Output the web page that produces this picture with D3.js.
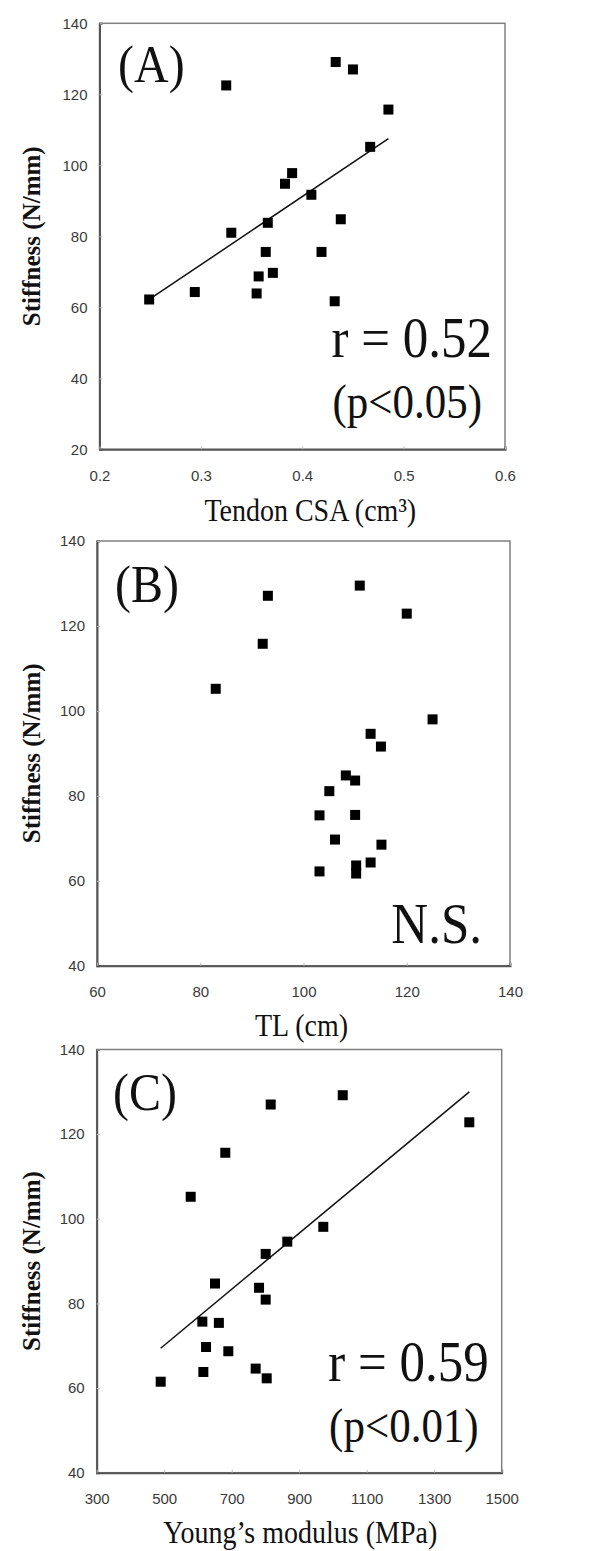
<!DOCTYPE html>
<html>
<head>
<meta charset="utf-8">
<script src="https://cdn.jsdelivr.net/npm/d3@7"></script>
<style>
  html, body { margin: 0; padding: 0; background: #fff; }
  svg { display: block; }
</style>
</head>
<body>
<div id="chart"></div>
<script>
// ---------------- DATA ----------------
// Panel A: Tendon CSA vs Stiffness
const csaA   = [0.325, 0.433, 0.450, 0.485, 0.467, 0.390, 0.383, 0.409, 0.438, 0.366, 0.330, 0.364, 0.419, 0.249, 0.294, 0.355, 0.357, 0.371, 0.432];
const stiffA = [122.5, 129.1, 127.0, 115.7, 105.2, 97.8, 94.8, 91.7, 84.8, 83.8, 81.0, 75.6, 75.6, 62.2, 64.3, 63.9, 68.7, 69.7, 61.7];
const trendA = [[0.249, 62.2], [0.485, 107.5]];
const xTicksA = [0.2, 0.3, 0.4, 0.5, 0.6];
const yTicksA = [20, 40, 60, 80, 100, 120, 140];

// Panel B: TL vs Stiffness
const tlB    = [93.1, 110.9, 120.0, 92.1, 83.0, 125.0, 113.0, 115.0, 108.2, 110.0, 105.0, 103.1, 110.0, 106.1, 115.1, 113.0, 103.1, 110.2, 110.2];
const stiffB = [127.1, 129.5, 122.9, 115.8, 105.2, 98.0, 94.6, 91.6, 84.8, 83.6, 81.1, 75.4, 75.5, 69.7, 68.5, 64.3, 62.2, 63.6, 61.7];
const xTicksB = [60, 80, 100, 120, 140];
const yTicksB = [40, 60, 80, 100, 120, 140];

// Panel C: Young's modulus vs Stiffness
const ymC    = [1029, 815.6, 1404, 681, 578.5, 971.4, 864.7, 800.7, 650.5, 781, 800.7, 613, 662, 624, 690, 616, 771, 803.7, 489.6];
const stiffC = [129.2, 127.0, 122.8, 115.6, 105.2, 98.1, 94.6, 91.7, 84.7, 83.7, 80.9, 75.7, 75.4, 69.7, 68.7, 63.8, 64.6, 62.3, 61.5];
const trendC = [[489.6, 69.4], [1404, 130.0]];
const xTicksC = [300, 500, 700, 900, 1100, 1300, 1500];
const yTicksC = [40, 60, 80, 100, 120, 140];

const panelLabels = ["(A)", "(B)", "(C)"];
const xTitles = ["Tendon CSA (cm\u00B3)", "TL (cm)", "Young\u2019s modulus (MPa)"];
const yTitle = "Stiffness (N/mm)";
const statLines = [["r = 0.52", "(p<0.05)"], ["N.S."], ["r = 0.59", "(p<0.01)"]];

// ---------------- LAYOUT ----------------
const W = 591, H = 1551;
const serif = "'Liberation Serif', 'Times New Roman', serif";
const sans = "'Liberation Sans', Arial, sans-serif";
const SY = 1.12; // slight vertical stretch of the source figure's text

const panels = [
  { xs: csaA, ys: stiffA, trend: trendA, xTicks: xTicksA, yTicks: yTicksA, fmt: d3.format(".1f"),
    box: { left: 99.5, right: 505, top: 23.3, bottom: 449.3 }, labelX: 118, labelY: 82, titleY: 521, titleDX: 8 },
  { xs: tlB, ys: stiffB, trend: null, xTicks: xTicksB, yTicks: yTicksB, fmt: d3.format("d"),
    box: { left: 97, right: 510, top: 541, bottom: 965.7 }, labelX: 115, labelY: 602, titleY: 1036, titleDX: -2 },
  { xs: ymC, ys: stiffC, trend: trendC, xTicks: xTicksC, yTicks: yTicksC, fmt: d3.format("d"),
    box: { left: 96.7, right: 501.7, top: 1049.5, bottom: 1472.7 }, labelX: 113, labelY: 1110, titleY: 1543, titleDX: 1 }
];

const svg = d3.select("#chart").append("svg")
  .attr("width", W).attr("height", H)
  .attr("viewBox", `0 0 ${W} ${H}`);

svg.append("rect").attr("width", W).attr("height", H).attr("fill", "#fff");

function stretchedText(g, tx, ty, size, anchor, str) {
  return g.append("text")
    .attr("transform", `translate(${tx},${ty}) scale(1,${SY})`)
    .attr("text-anchor", anchor)
    .style("font-family", serif).style("font-size", size + "px")
    .attr("fill", "#111")
    .text(str);
}

panels.forEach((p, i) => {
  const b = p.box;
  const x = d3.scaleLinear().domain(d3.extent(p.xTicks)).range([b.left, b.right]);
  const y = d3.scaleLinear().domain(d3.extent(p.yTicks)).range([b.bottom, b.top]);
  const g = svg.append("g");

  // frame
  g.append("rect")
    .attr("x", b.left).attr("y", b.top)
    .attr("width", b.right - b.left).attr("height", b.bottom - b.top)
    .attr("fill", "none").attr("stroke", "#808080").attr("stroke-width", 1.5);

  // axes
  const yAxis = d3.axisLeft(y).tickValues(p.yTicks).tickSize(-3).tickPadding(12).tickFormat(d3.format("d"));
  const xAxis = d3.axisBottom(x).tickValues(p.xTicks).tickSize(-3).tickPadding(21).tickFormat(p.fmt);

  const ya = g.append("g").attr("transform", `translate(${b.left},0)`).call(yAxis);
  const xa = g.append("g").attr("transform", `translate(0,${b.bottom})`).call(xAxis);
  [ya, xa].forEach(a => {
    a.select(".domain").attr("stroke", "#555").attr("stroke-width", 2);
    a.selectAll(".tick line").attr("stroke", "#bbb").attr("stroke-width", 1);
    a.selectAll(".tick text").attr("fill", "#3a3a3a")
      .style("font-family", sans).style("font-size", "15px");
  });

  // trend line
  if (p.trend) {
    g.append("line")
      .attr("x1", x(p.trend[0][0])).attr("y1", y(p.trend[0][1]))
      .attr("x2", x(p.trend[1][0])).attr("y2", y(p.trend[1][1]))
      .attr("stroke", "#111").attr("stroke-width", 1.5);
  }

  // points
  const pts = p.xs.map((v, k) => [v, p.ys[k]]);
  g.selectAll("rect.pt").data(pts).enter().append("rect")
    .attr("class", "pt")
    .attr("x", d => x(d[0]) - 5).attr("y", d => y(d[1]) - 5)
    .attr("width", 10).attr("height", 10)
    .attr("fill", "#000");

  // panel label
  stretchedText(g, p.labelX, p.labelY, 48, "start", panelLabels[i]);

  // stats text
  const st = statLines[i];
  if (st.length === 2) {
    stretchedText(g, b.right - 13, b.bottom - 92, 51, "end", st[0]);
    stretchedText(g, b.right - 23, b.bottom - 31, 43, "end", st[1]);
  } else {
    stretchedText(g, b.right - 28, b.bottom - 23, 51, "end", st[0]);
  }

  // x title
  stretchedText(g, (b.left + b.right) / 2 + p.titleDX, p.titleY, 28, "middle", xTitles[i]);

  // y title
  g.append("text")
    .attr("transform", `translate(40,${(b.top + b.bottom) / 2}) rotate(-90)`)
    .attr("text-anchor", "middle")
    .style("font-family", serif).style("font-size", "25px").style("font-weight", "bold")
    .attr("fill", "#111")
    .text(yTitle);
});
</script>
</body>
</html>
